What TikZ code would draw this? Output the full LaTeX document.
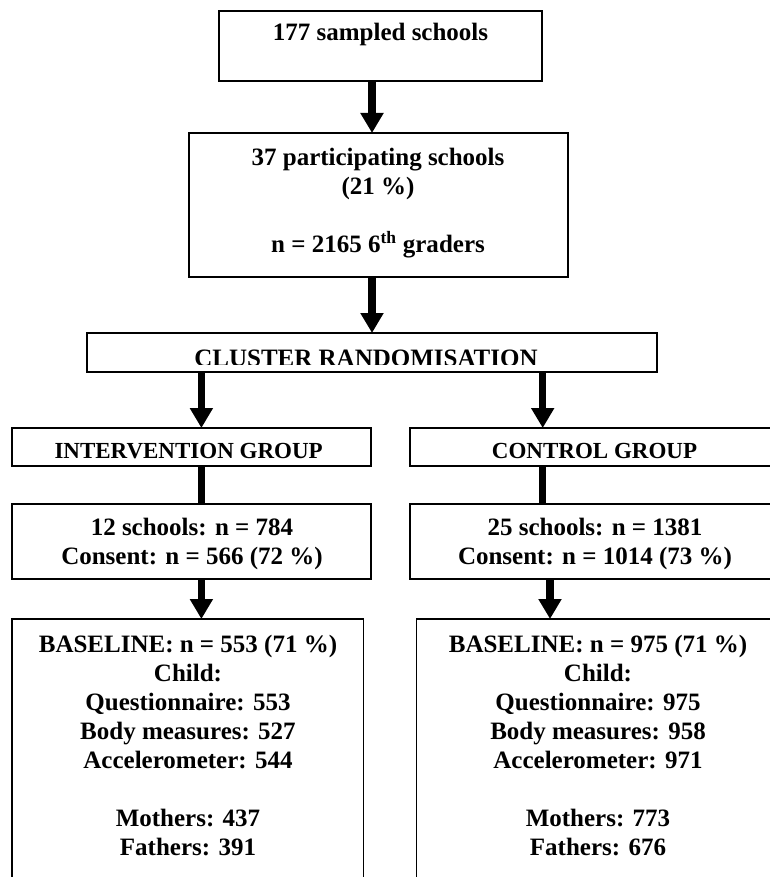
\documentclass[tikz,border=0pt]{standalone}
\usepackage{fontspec}
\setmainfont{Liberation Serif}
\usetikzlibrary{arrows.meta}
\newcommand{\firststrut}{\rule{0pt}{20pt}}
\begin{document}
\begin{tikzpicture}[x=1pt,y=-1pt,
  box/.style={draw, line width=1.6pt, inner sep=0pt, outer sep=0pt, anchor=north west},
  txt/.style={inner sep=0pt, outer sep=0pt, anchor=north, align=center,
              font=\fontsize{25}{29.1}\selectfont\bfseries},
  stxt/.style={txt, font=\fontsize{23}{26}\selectfont\bfseries},
  arr/.style={line width=7.5pt, -{Triangle[width=22pt,length=20pt]}},
  conn/.style={line width=7.5pt}]
\useasboundingbox (0,0) rectangle (770,877);
\clip (0,0) rectangle (770,877);
\fill[white] (0,0) rectangle (770,877);

% x positions of connectors
\coordinate (xa) at (372,0);
\coordinate (xl) at (201.4,0);
\coordinate (xr) at (542.7,0);
\coordinate (xr2) at (550,0);

% boxes
\node[box, minimum width=323, minimum height=70] (b1) at (219,11) {};
\node[box, minimum width=379, minimum height=144] (b2) at (189,133) {};
\node[box, minimum width=570, minimum height=39] (cl) at (87,333) {};
\node[box, minimum width=359, minimum height=38] (iv) at (12,428) {};
\node[box, minimum width=380, minimum height=38] (ct) at (410,428) {};
\node[box, minimum width=359, minimum height=75] (ic) at (12,504) {};
\node[box, minimum width=380, minimum height=75] (cc) at (410,504) {};
\node[box, minimum width=351.5, minimum height=300] (ib) at (12,619) {};
\node[box, minimum width=380, minimum height=300] (cb) at (416.5,619) {};

% texts
\node[txt] (t1) at (380.5,21) {\firststrut 177 sampled schools};
\node[txt] (t2) at (378,145) {\firststrut 37 participating schools\\(21 \%)\\\mbox{}\\n = 2165 6\textsuperscript{th} graders};
\begin{scope}
  \clip (87,333) rectangle (657,364.3);
  \node[txt] (t3) at (366,346.5) {\firststrut CLUSTER RANDOMISATION};
\end{scope}
\node[stxt] (t4) at (188.6,438.5) {\firststrut INTERVENTION GROUP};
\node[stxt] (t5) at (594.5,438.5) {\firststrut CONTROL GROUP};
\node[txt] (t6) at (192,515.5) {\firststrut 12 schools: n = 784\\Consent: n = 566 (72 \%)};
\node[txt] (t7) at (595,515.5) {\firststrut 25 schools: n = 1381\\Consent: n = 1014 (73 \%)};
\node[txt] (t8) at (188,632) {\firststrut BASELINE: n = 553 (71 \%)\\Child:\\Questionnaire: 553\\Body measures: 527\\Accelerometer: 544\\\mbox{}\\Mothers: 437\\Fathers: 391};
\node[txt] (t9) at (598,632) {\firststrut BASELINE: n = 975 (71 \%)\\Child:\\Questionnaire: 975\\Body measures: 958\\Accelerometer: 971\\\mbox{}\\Mothers: 773\\Fathers: 676};

% connectors
\draw[arr] (b1.south -| xa) -- (b2.north -| xa);
\draw[arr] (b2.south -| xa) -- (cl.north -| xa);
\draw[arr] (cl.south -| xl) -- (iv.north -| xl);
\draw[arr] (cl.south -| xr) -- (ct.north -| xr);
\draw[conn] (iv.south -| xl) -- (ic.north -| xl);
\draw[conn] (ct.south -| xr) -- (cc.north -| xr);
\draw[arr] (ic.south -| xl) -- (ib.north -| xl);
\draw[arr] (cc.south -| xr2) -- (cb.north -| xr2);
\end{tikzpicture}
\end{document}
